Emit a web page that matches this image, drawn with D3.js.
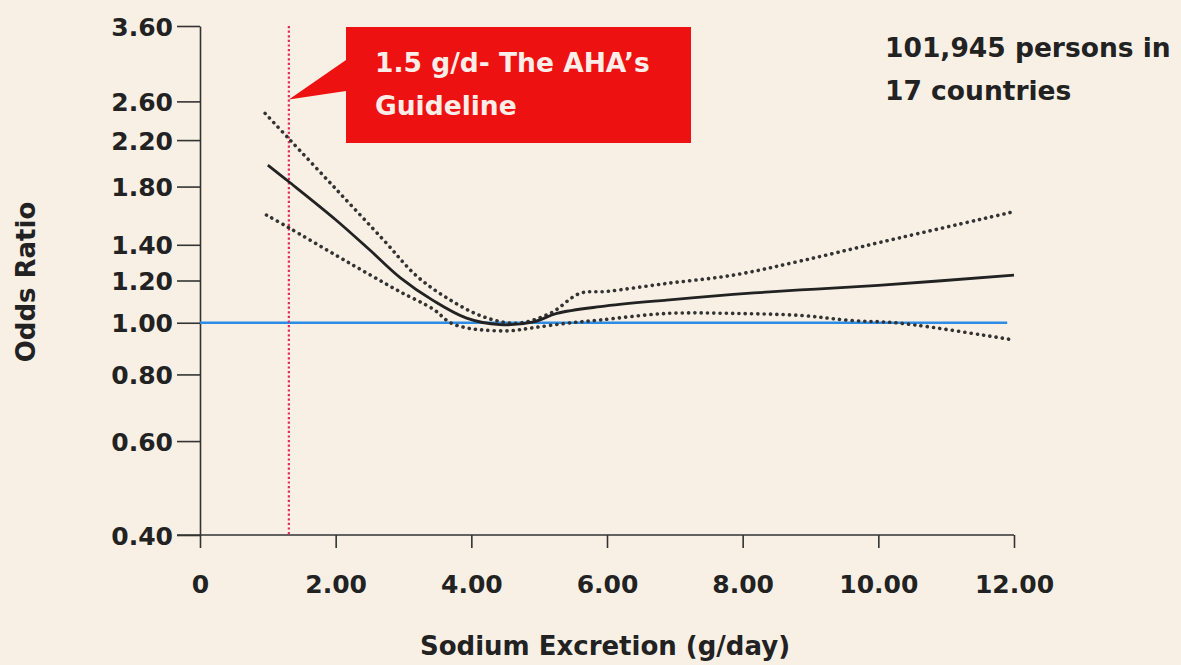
<!DOCTYPE html>
<html>
<head>
<meta charset="utf-8">
<script src="https://cdn.jsdelivr.net/npm/d3@7"></script>
<style>
    body { margin: 0; background: #f8f0e5; }
    svg { display: block; }
    text { font-family: "DejaVu Sans", sans-serif; fill: #222; }
</style>
</head>
<body>
<div id="chart"></div>
<script>
// sodium excretion (g/day) vs odds ratio
var est_x   = [1.0, 1.31, 2.0, 2.5, 2.95, 3.44, 3.93, 4.42, 4.92, 5.26, 5.9, 6.88, 7.86, 8.85, 10.0, 12.0];
var est_y   = [1.975, 1.838, 1.56, 1.37, 1.215, 1.10, 1.02, 0.992, 1.004, 1.041, 1.072, 1.103, 1.13, 1.152, 1.175, 1.228];

var upper_x = [0.96, 1.31, 2.0, 2.70, 3.19, 3.69, 4.18, 4.67, 5.16, 5.6, 6.0, 6.88, 7.86, 8.85, 10.08, 12.0];
var upper_y = [2.469, 2.213, 1.783, 1.432, 1.225, 1.103, 1.026, 0.998, 1.041, 1.135, 1.145, 1.185, 1.228, 1.305, 1.42, 1.615];

var lower_x = [0.98, 1.31, 2.0, 2.5, 2.95, 3.44, 3.69, 3.93, 4.18, 4.57, 4.92, 5.41, 5.9, 6.88, 7.86, 8.85, 9.59, 10.32, 12.0];
var lower_y = [1.592, 1.507, 1.339, 1.231, 1.143, 1.06, 1.0, 0.978, 0.969, 0.966, 0.979, 0.998, 1.012, 1.041, 1.041, 1.032, 1.01, 0.998, 0.928];

var x_ticks = [0, 2, 4, 6, 8, 10, 12];
var y_ticks = [0.4, 0.6, 0.8, 1.0, 1.2, 1.4, 1.8, 2.2, 2.6, 3.6];

var guideline_x = 1.31;     // where the red dotted line is drawn
var ref_y = 1.0;            // blue reference line
var ref_x_end = 11.9;

var width = 1181, height = 665;

var svg = d3.select("#chart")
    .append("svg")
    .attr("width", width)
    .attr("height", height);

var x = d3.scaleLinear().domain([0, 12]).range([200, 1014]);
var y = d3.scaleLog().domain([0.4, 3.6]).range([535, 26]);

// axes
var xAxis = d3.axisBottom(x)
    .tickValues(x_ticks)
    .tickSize(13)
    .tickSizeOuter(0)
    .tickFormat(function(d) { return d == 0 ? "0" : d3.format(".2f")(d); });

var yAxis = d3.axisLeft(y)
    .tickValues(y_ticks)
    .tickSize(23)
    .tickSizeOuter(0)
    .tickFormat(d3.format(".2f"));

var gx = svg.append("g")
    .attr("transform", "translate(0," + y(0.4) + ")")
    .call(xAxis);

var gy = svg.append("g")
    .attr("transform", "translate(" + x(0) + ",0)")
    .call(yAxis);

[gx, gy].forEach(function(g) {
    g.select(".domain").attr("stroke", "#333").attr("stroke-width", 1.6);
    g.selectAll(".tick line").attr("stroke", "#333").attr("stroke-width", 1.6);
    g.selectAll(".tick text")
        .attr("font-family", "'DejaVu Sans', sans-serif")
        .attr("font-size", "25px")
        .attr("font-weight", "bold")
        .attr("fill", "#222");
});
// x axis line runs left to the 0.40 tick
gx.select(".domain").attr("d", "M" + (x(0) - 23) + ",0H" + x(12));
gx.selectAll(".tick text").attr("y", 58).attr("dy", 0);
gy.selectAll(".tick text").attr("x", -27).attr("dy", "0.36em");
// y axis line continues down as the 0 tick
gx.selectAll(".tick").filter(function(d) { return d == 0; })
    .select("line").attr("y1", 0);

// blue reference line at 1.00
svg.append("line")
    .attr("x1", x(0)).attr("x2", x(ref_x_end))
    .attr("y1", y(ref_y)).attr("y2", y(ref_y))
    .attr("stroke", "#2d8ce6")
    .attr("stroke-width", 2.4);

// guideline
svg.append("line")
    .attr("x1", x(guideline_x)).attr("x2", x(guideline_x))
    .attr("y1", y(3.6)).attr("y2", y(0.4))
    .attr("stroke", "#e22a5c")
    .attr("stroke-width", 2.2)
    .attr("stroke-dasharray", "2.2,2.4");

// curves
var line = d3.line()
    .x(function(d) { return x(d[0]); })
    .y(function(d) { return y(d[1]); })
    .curve(d3.curveCatmullRom.alpha(0.5));

function pairs(xs, ys) {
    return xs.map(function(v, i) { return [v, ys[i]]; });
}

[pairs(upper_x, upper_y), pairs(lower_x, lower_y)].forEach(function(band) {
    svg.append("path")
        .datum(band)
        .attr("d", line)
        .attr("fill", "none")
        .attr("stroke", "#333")
        .attr("stroke-width", 3.6)
        .attr("stroke-linecap", "round")
        .attr("stroke-dasharray", "0.1,6.2");
});

svg.append("path")
    .datum(pairs(est_x, est_y))
    .attr("d", line)
    .attr("fill", "none")
    .attr("stroke", "#222")
    .attr("stroke-width", 2.8);

// callout box
svg.append("path")
    .attr("d", "M346,27H691V143H346V91L" + x(guideline_x) + "," + (y(2.6) - 2) + "L346,60Z")
    .attr("fill", "#ee1111");

svg.append("text")
    .attr("x", 375).attr("y", 72)
    .attr("font-size", "26.5px")
    .attr("font-weight", "bold")
    .style("fill", "#fbeee8")
    .text("1.5 g/d- The AHA\u2019s");

svg.append("text")
    .attr("x", 375).attr("y", 115)
    .attr("font-size", "26.5px")
    .attr("font-weight", "bold")
    .style("fill", "#fbeee8")
    .text("Guideline");

// note
svg.append("text")
    .attr("x", 885).attr("y", 57)
    .attr("font-size", "26.5px")
    .attr("font-weight", "bold")
    .text("101,945 persons in");

svg.append("text")
    .attr("x", 885).attr("y", 100)
    .attr("font-size", "26.5px")
    .attr("font-weight", "bold")
    .text("17 countries");

// axis titles
svg.append("text")
    .attr("x", 605).attr("y", 655)
    .attr("text-anchor", "middle")
    .attr("font-size", "26px")
    .attr("font-weight", "bold")
    .text("Sodium Excretion (g/day)");

svg.append("text")
    .attr("transform", "translate(35,282) rotate(-90)")
    .attr("text-anchor", "middle")
    .attr("font-size", "26px")
    .attr("font-weight", "bold")
    .text("Odds Ratio");
</script>
</body>
</html>
